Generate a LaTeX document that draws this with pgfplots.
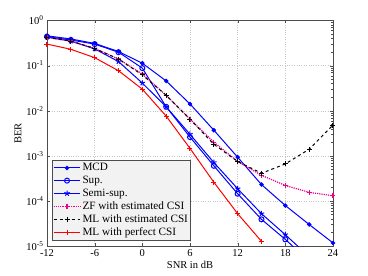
\documentclass[border=0pt]{standalone}
\usepackage{fontspec}
\setmainfont{Liberation Serif}
\usepackage{pgfplots}
\pgfplotsset{compat=1.18}
\begin{document}
\begin{tikzpicture}
\path[use as bounding box] (-47pt,-30pt) rectangle (321pt,246pt);
\begin{axis}[
  scale only axis,
  width=286pt, height=225.5pt,
  ymode=log,
  xmin=-12, xmax=24, ymin=1e-5, ymax=1,
  xtick={-12,-6,0,6,12,18,24},
  ytick={1e-5,1e-4,1e-3,1e-2,1e-1,1},
  yticklabels={10\textsuperscript{-5},10\textsuperscript{-4},10\textsuperscript{-3},10\textsuperscript{-2},10\textsuperscript{-1},10\textsuperscript{0}},
  /pgf/number format/assume math mode=true,
  tick align=inside,
  tick style={black!70},
  minor tick length=1.5pt, major tick length=3pt,
  grid=major,
  major grid style={dotted, gray!45},
  axis line style={black!70},
  every tick label/.append style={font=\fontsize{10.5}{12}\selectfont},
  xlabel={SNR in dB}, ylabel={BER},
  label style={font=\fontsize{10.5}{12}\selectfont},
  xlabel style={yshift=2pt},
  ylabel style={yshift=-2pt},
  legend cell align=left,
  legend style={at={(0.017,0.025)}, anchor=south west, fill=gray!10, draw=black!70,
    font=\fontsize{11.2}{12}\selectfont, inner sep=1pt, row sep=-0.2pt,
    nodes={inner xsep=1.5pt}},
  legend image code/.code={\draw[mark repeat=2,mark phase=2] plot coordinates {(0cm,0cm)(0.47cm,0cm)(0.94cm,0cm)};},
]
\addplot[color=blue, line width=1pt, mark=*, mark size=1.7pt] coordinates {
(-12,0.457)(-9,0.39)(-6,0.31)(-3,0.205)(0,0.113)(3,0.0457)(6,0.0141)(9,0.0037)(12,9.3e-4)(15,2.3e-4)(18,7.9e-5)(21,3e-5)(24,1.17e-5)};
\addlegendentry{MCD}
\addplot[color=blue, line width=1pt, mark=o, mark size=2.5pt] coordinates {
(-12,0.44)(-9,0.37)(-6,0.30)(-3,0.198)(0,0.088)(3,0.0122)(6,0.0026)(9,6e-4)(12,1.44e-4)(15,3.9e-5)(18,1.4e-5)(21,4.6e-6)};
\addlegendentry{Sup.}
\addplot[color=blue, line width=1pt, mark=star, mark size=2.8pt] coordinates {
(-12,0.43)(-9,0.35)(-6,0.235)(-3,0.123)(0,0.041)(3,0.0122)(6,0.0030)(9,7.1e-4)(12,1.86e-4)(15,5.2e-5)(18,1.78e-5)(21,5.8e-6)};
\addlegendentry{Semi-sup.}
\addplot[color=magenta, line width=1.2pt, densely dotted, mark=+, mark size=2.5pt, mark options={solid}] coordinates {
(-12,0.42)(-9,0.35)(-6,0.24)(-3,0.14)(0,0.065)(3,0.022)(6,0.0065)(9,0.002)(12,7.5e-4)(15,3.7e-4)(18,2.2e-4)(21,1.55e-4)(24,1.3e-4)};
\addlegendentry{ZF with estimated CSI}
\addplot[color=black, line width=1pt, dashed, mark=+, mark size=2.5pt, mark options={solid}] coordinates {
(-12,0.42)(-9,0.35)(-6,0.24)(-3,0.14)(0,0.062)(3,0.022)(6,0.0065)(9,0.0018)(12,7.5e-4)(15,4.1e-4)(18,6.6e-4)(21,1.4e-3)(24,4.8e-3)};
\addlegendentry{ML with estimated CSI}
\addplot[color=red, line width=1pt, mark=+, mark size=2.5pt] coordinates {
(-12,0.30)(-9,0.23)(-6,0.15)(-3,0.077)(0,0.030)(3,0.0076)(6,0.00146)(9,2.6e-4)(12,5.2e-5)(15,1.27e-5)};
\addlegendentry{ML with perfect CSI}
\end{axis}
\end{tikzpicture}
\end{document}
